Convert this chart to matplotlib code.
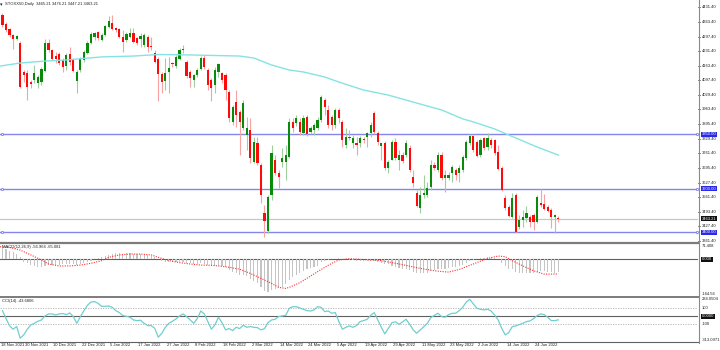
import matplotlib
matplotlib.use("Agg")
import matplotlib.pyplot as plt
from matplotlib.lines import Line2D
import numpy as np

plt.rcParams['font.family'] = ['Liberation Sans', 'DejaVu Sans']

# ---------------- data ----------------
symbol_title = "STOXX50,Daily  3465.21 3476.21 3447.21 3463.21"

opens = [4396, 4355, 4332, 4304, 4286, 4268, 4135, 4130, 4089, 4098,
         4084, 4089, 4140, 4268, 4236, 4208, 4217, 4190, 4162, 4217,
         4190, 4094, 4144, 4190, 4222, 4268, 4295, 4318, 4282, 4304,
         4341, 4360, 4336, 4332, 4295, 4282, 4295, 4314, 4291, 4286,
         4259, 4295, 4254, 4222, 4194, 4126, 4094, 4135, 4176, 4162,
         4194, 4240, 4181, 4135, 4098, 4121, 4149, 4199, 4144, 4098,
         4075, 4135, 4130, 4121, 4043, 3906, 3997, 3951, 3878, 3846,
         3869, 3722, 3809, 3708, 3488, 3406, 3571, 3731, 3672, 3722,
         3722, 3745, 3906, 3901, 3906, 3855, 3929, 3860, 3869, 3878,
         3915, 4006, 3961, 3929, 3892, 3961, 3906, 3800, 3837, 3809,
         3809, 3809, 3828, 3837, 3855, 3947, 3855, 3796, 3809, 3695,
         3731, 3814, 3731, 3754, 3754, 3786, 3654, 3580, 3511, 3571,
         3571, 3608, 3708, 3686, 3754, 3649, 3649, 3672, 3686, 3672,
         3686, 3741, 3809, 3841, 3814, 3754, 3832, 3791, 3823, 3823,
         3768, 3695, 3557, 3516, 3470, 3571, 3424, 3456, 3466, 3470,
         3479, 3447, 3534, 3530, 3516, 3502, 3470, 3465.21]
highs = [4405, 4364, 4337, 4309, 4304, 4275, 4144, 4144, 4098, 4167,
         4121, 4158, 4286, 4286, 4240, 4227, 4227, 4199, 4222, 4250,
         4199, 4144, 4204, 4236, 4277, 4318, 4318, 4323, 4314, 4350,
         4392, 4396, 4341, 4336, 4327, 4318, 4336, 4336, 4295, 4314,
         4314, 4304, 4295, 4236, 4204, 4135, 4199, 4204, 4181, 4213,
         4245, 4259, 4190, 4144, 4126, 4153, 4208, 4213, 4153, 4107,
         4158, 4176, 4135, 4130, 4052, 3984, 4052, 3961, 4006, 3929,
         3924, 3837, 3837, 3718, 3525, 3571, 3800, 3754, 3686, 3786,
         3800, 3924, 3924, 3938, 3924, 3938, 3938, 3887, 3901, 3929,
         4029, 4016, 3984, 3938, 3970, 3970, 3915, 3878, 3869, 3846,
         3837, 3841, 3837, 3860, 3906, 3956, 3864, 3809, 3818, 3731,
         3823, 3832, 3777, 3768, 3823, 3800, 3686, 3594, 3608, 3663,
         3631, 3731, 3722, 3768, 3768, 3686, 3676, 3708, 3695, 3708,
         3754, 3823, 3851, 3851, 3823, 3832, 3837, 3855, 3832, 3828,
         3800, 3704, 3571, 3525, 3580, 3580, 3479, 3502, 3520, 3479,
         3488, 3571, 3599, 3576, 3525, 3511, 3484, 3476.21]
lows = [4341, 4318, 4295, 4240, 4282, 4061, 4089, 4006, 4061, 4084,
        4061, 4075, 4135, 4227, 4190, 4176, 4167, 4135, 4144, 4167,
        4135, 4039, 4135, 4181, 4217, 4263, 4282, 4282, 4277, 4300,
        4336, 4327, 4318, 4291, 4227, 4272, 4291, 4268, 4259, 4250,
        4250, 4227, 4236, 4176, 4000, 4039, 4052, 4039, 4158, 4153,
        4190, 4222, 4107, 4066, 4066, 4112, 4144, 4149, 4052, 4000,
        4039, 4112, 4084, 4006, 3906, 3892, 3883, 3754, 3869, 3777,
        3718, 3718, 3708, 3534, 3378, 3397, 3548, 3663, 3603, 3699,
        3640, 3741, 3860, 3887, 3846, 3846, 3841, 3851, 3846, 3869,
        3906, 3938, 3878, 3869, 3878, 3901, 3791, 3786, 3823, 3786,
        3754, 3791, 3809, 3791, 3837, 3851, 3800, 3731, 3686, 3672,
        3731, 3731, 3686, 3718, 3745, 3676, 3608, 3516, 3488, 3557,
        3562, 3594, 3686, 3676, 3640, 3585, 3640, 3631, 3640, 3631,
        3676, 3731, 3800, 3768, 3745, 3745, 3777, 3777, 3786, 3754,
        3686, 3589, 3502, 3470, 3465, 3397, 3415, 3424, 3447, 3424,
        3411, 3443, 3516, 3502, 3493, 3420, 3397, 3447.21]
closes = [4350, 4327, 4304, 4286, 4300, 4066, 4121, 4066, 4080, 4130,
          4112, 4149, 4268, 4236, 4194, 4194, 4176, 4158, 4213, 4181,
          4140, 4135, 4194, 4227, 4268, 4309, 4314, 4291, 4304, 4346,
          4369, 4332, 4327, 4295, 4272, 4309, 4314, 4272, 4268, 4300,
          4304, 4250, 4250, 4181, 4126, 4089, 4130, 4153, 4172, 4204,
          4236, 4236, 4117, 4107, 4121, 4144, 4199, 4158, 4075, 4061,
          4144, 4172, 4098, 4052, 3924, 3974, 3938, 3906, 3993, 3878,
          3741, 3814, 3718, 3571, 3452, 3562, 3763, 3672, 3654, 3740,
          3754, 3906, 3878, 3924, 3860, 3924, 3851, 3878, 3892, 3915,
          4020, 3974, 3892, 3892, 3961, 3924, 3823, 3837, 3832, 3832,
          3800, 3832, 3823, 3855, 3892, 3860, 3814, 3809, 3695, 3722,
          3814, 3741, 3754, 3727, 3809, 3686, 3626, 3520, 3571, 3580,
          3603, 3708, 3695, 3754, 3649, 3663, 3663, 3699, 3663, 3695,
          3745, 3814, 3841, 3777, 3750, 3823, 3786, 3832, 3800, 3763,
          3690, 3594, 3511, 3475, 3557, 3401, 3456, 3470, 3488, 3447,
          3447, 3562, 3525, 3507, 3497, 3470, 3479, 3463.21]

# moving average, read at selected bars
ma_bars = [-0.7, 5, 12, 18, 28, 37, 44, 53, 67, 71, 76, 81, 85, 91, 95,
           102, 109, 116, 124, 130, 133, 139, 143, 151, 157]
ma_vals = [4162, 4176, 4185, 4190, 4204, 4208, 4215, 4213, 4208, 4199,
           4167, 4144, 4135, 4112, 4089, 4052, 4029, 3997, 3961, 3920,
           3906, 3874, 3846, 3791, 3754]

# horizontal levels
levels = [3850.00, 3600.00, 3400.00]
last_price = 3463.21

# MACD(12,26,9)
macd_main = [50, 45, 39, 35, 24, 12, -11, -18, -26, -30,
             -33, -36, -30, -27, -26, -26, -24, -23, -21, -21,
             -21, -26, -21, -18, -11, -6, 0, 5, 9, 15,
             20, 24, 27, 27, 26, 27, 27, 26, 24, 23,
             21, 18, 15, 9, 0, -6, -11, -11, -12, -12,
             -11, -11, -15, -18, -21, -21, -18, -21, -26, -30,
             -30, -29, -30, -36, -48, -56, -61, -71, -71, -76,
             -91, -97, -109, -124, -142, -147, -139, -136, -132, -124,
             -112, -94, -82, -71, -64, -52, -45, -41, -36, -30,
             -12, -6, -3, 0, 3, 5, 3, 0, -3, -5,
             -8, -9, -9, -8, -6, -8, -11, -15, -20, -20,
             -28, -33, -38, -42, -44, -50, -56, -62, -64, -62,
             -60, -52, -48, -42, -44, -42, -40, -37, -35, -32,
             -25, -15, -6, -3, 0, 5, 8, 10, 10, 8,
             0, -15, -30, -42, -45, -58, -62, -64, -64, -64,
             -64, -58, -55, -55, -56, -59, -60, -56.964]
signal_bars = [-0.7, 2, 5, 8, 11, 13, 16, 19, 22, 25, 28, 30, 33, 36, 39,
               42, 45, 47, 50, 53, 56, 59, 61, 64, 67, 70, 73, 76, 78, 80,
               81, 84, 87, 90, 93, 95, 98, 101, 107, 112, 118, 122, 126,
               129, 133, 137, 140, 142, 144, 147, 150, 153, 156, 157]
signal_vals = [57, 54, 42, 20, -3, -21, -30, -30, -26, -18, -6, 9, 20, 24,
               24, 20, 4, -6, -15, -21, -26, -27, -30, -36, -45, -64, -86,
               -109, -127, -132, -127, -106, -76, -46, -18, -3, 3, 0, -6,
               -21, -41, -52, -58, -46, -21, 4, 15, 12, -6, -30, -52, -67,
               -67, -65.081]

# CCI(14)
cci = [69, -29, -118, -159, -126, -269, -228, -159, -106, -86,
       -61, -45, 4, 29, 29, 16, 29, 33, 20, 41,
       -4, -86, -4, 69, 135, 175, 180, 159, 122, 122,
       126, 110, 69, 45, 8, 0, -12, -45, -53, -49,
       -86, -114, -114, -147, -257, -208, -135, -86, -61, -33,
       4, 29, -4, -45, -86, -29, 65, 29, -65, -159,
       -106, -12, -78, -167, -151, -175, -135, -151, -110, -135,
       -126, -135, -139, -167, -151, -78, -45, -37, -4, 4,
       12, 98, 118, 118, 102, 86, 69, 65, 78, 118,
       110, 57, 65, 37, 45, -65, -159, -135, -118, -135,
       -114, -65, -53, -37, 12, 45, -45, -135, -216, -147,
       -78, -69, -98, -69, -37, -98, -167, -208, -167, -126,
       -86, -16, 12, 37, -4, -12, 20, 37, 37, 69,
       110, 175, 208, 151, 98, 86, 78, 86, 65, 16,
       -45, -147, -228, -200, -126, -118, -102, -86, -65, -57,
       -29, 8, 29, 20, -12, -53, -53, -43.6806]

price_ticks = [4431.40, 4363.40, 4297.40, 4231.40, 4163.40, 4097.40, 4029.40,
               3963.40, 3895.40, 3829.40, 3761.40, 3695.40, 3627.40, 3561.40,
               3493.40, 3427.40, 3361.40]

date_labels = ["18 Nov 2021", "30 Nov 2021", "10 Dec 2021", "22 Dec 2021",
               "5 Jan 2022", "17 Jan 2022", "27 Jan 2022", "8 Feb 2022",
               "18 Feb 2022", "2 Mar 2022", "14 Mar 2022", "24 Mar 2022",
               "5 Apr 2022", "19 Apr 2022", "29 Apr 2022", "11 May 2022",
               "23 May 2022", "2 Jun 2022", "14 Jun 2022", "24 Jun 2022"]
date_bars = [-1, 7, 15, 23, 31, 39, 47, 55, 63, 71, 79, 87, 95, 103, 111,
             119, 127, 135, 143, 151]

# ---------------- layout helpers ----------------
W, H = 720, 350
fig = plt.figure(figsize=(W / 100, H / 100), dpi=100)
fig.patch.set_facecolor("white")


def rect(x0, y0, x1, y1):
    return [x0 / W, 1 - y1 / H, (x1 - x0) / W, (y1 - y0) / H]


AX_R = 698
XLIM = (-0.706, 196.45)
FS = 3.0


def make_ax(y0, y1, ylim):
    ax = fig.add_axes(rect(0, y0, AX_R, y1))
    ax.set_xlim(*XLIM)
    ax.set_ylim(*ylim)
    ax.set_axis_off()
    return ax


ax = make_ax(0, 241.5, (3357.9, 4464.9))
axm = make_ax(243.6, 295.6, (-164.56, 71.408))
axc = make_ax(297.2, 341.8, (-313.0971, 234.0504))

n = len(closes)
idx = np.arange(n)
o = np.array(opens, float)
h = np.array(highs, float)
l = np.array(lows, float)
c = np.array(closes, float)
up = c >= o

# ---------------- price panel ----------------
wick_cols = np.where(up, "#9fce9f", "#f7a3a3")
ax.vlines(idx, l, h, colors=wick_cols, lw=0.8, zorder=2)
body_bottom = np.minimum(o, c)
body_h = np.maximum(np.abs(c - o), 3.0)
ax.bar(idx, body_h, bottom=body_bottom, width=0.62,
       color=np.where(up, "#0a8a0a", "#ff0a0a"), lw=0, zorder=3)

ax.plot(ma_bars, ma_vals, color="#86e3e3", lw=1.0, zorder=4)

for lv in levels:
    ax.axhline(lv, color="#8585ee", lw=1.0, zorder=1)
    ax.plot([XLIM[0] + 0.5, XLIM[1] - 0.3], [lv, lv], ls="none", marker="o",
            ms=1.6, mfc="white", mec="#6a6ae0", mew=0.5, zorder=5, clip_on=False)
ax.axhline(last_price, color="#c3c8cc", lw=0.9, zorder=1)

ax.text(0.0005, 0.99, "\u25be", transform=ax.transAxes, fontsize=3.6,
        va="top", ha="left", color="#202040")
ax.text(0.007, 0.99, symbol_title, transform=ax.transAxes, fontsize=FS,
        va="top", ha="left", color="#202020")

ytr = ax.get_yaxis_transform()
for t in price_ticks:
    ax.text(1.0057, t, f"{t:.2f}", transform=ytr, fontsize=FS, va="center",
            ha="left", color="#202020", clip_on=False)
    ax.plot([1.0, 1.003], [t, t], transform=ytr, color="#404040", lw=0.5,
            clip_on=False)
for lv in levels:
    ax.text(1.0057, lv, f"{lv:.2f}", transform=ytr, fontsize=FS, va="center",
            ha="left", color="white", clip_on=False, zorder=6,
            bbox=dict(boxstyle="square,pad=0.12", fc="#2a2ae6", ec="none"))
ax.text(1.0057, last_price, f"{last_price:.2f}", transform=ytr, fontsize=FS,
        va="center", ha="left", color="white", clip_on=False, zorder=6,
        bbox=dict(boxstyle="square,pad=0.12", fc="#101010", ec="none"))

# ---------------- MACD panel ----------------
axm.bar(idx, macd_main, width=0.32, color="#c4c4c4", lw=0, zorder=2)
axm.axhline(0, color="#606060", lw=0.8, zorder=1)
axm.plot(signal_bars, signal_vals, color="#ff3030", lw=0.8, ls=(0, (1, 1.2)),
         zorder=3)
axm.text(0.003, 0.97, "MACD(12,26,9) -56.964 -65.081", transform=axm.transAxes,
         fontsize=FS, va="top", ha="left", color="#202020")
mtr = axm.get_yaxis_transform()
axm.text(1.0057, 71.408, "71.408", transform=mtr, fontsize=FS, va="top",
         ha="left", color="#202020", clip_on=False)
axm.text(1.0057, -164.56, "-164.56", transform=mtr, fontsize=FS, va="bottom",
         ha="left", color="#202020", clip_on=False)
axm.text(1.0057, 0, "0.000", transform=mtr, fontsize=FS, va="center",
         ha="left", color="white", clip_on=False,
         bbox=dict(boxstyle="square,pad=0.12", fc="#101010", ec="none"))

# ---------------- CCI panel ----------------
axc.plot(idx, cci, color="#6fcfcf", lw=0.9, zorder=3)
axc.axhline(0, color="#606060", lw=0.8, zorder=1)
for lv in (100, -100):
    axc.axhline(lv, color="#b0b0b0", lw=0.6, ls=(0, (1.5, 1.5)), zorder=1)
axc.text(0.003, 0.97, "CCI(14) -43.6806", transform=axc.transAxes,
         fontsize=FS, va="top", ha="left", color="#202020")
ctr = axc.get_yaxis_transform()
axc.text(1.0057, 234.0504, "234.0504", transform=ctr, fontsize=FS, va="top",
         ha="left", color="#202020", clip_on=False)
axc.text(1.0057, -313.0971, "-313.0971", transform=ctr, fontsize=FS,
         va="bottom", ha="left", color="#202020", clip_on=False)
for lv in (100, -100):
    axc.text(1.0057, lv, f"{lv}", transform=ctr, fontsize=FS, va="center",
             ha="left", color="#202020", clip_on=False)
axc.text(1.0057, 0, "0.0000", transform=ctr, fontsize=FS, va="center",
         ha="left", color="white", clip_on=False,
         bbox=dict(boxstyle="square,pad=0.12", fc="#101010", ec="none"))

# date labels under the lowest panel (first one kept inside the figure)
xtr = axc.get_xaxis_transform()
for b, lab in zip(date_bars, date_labels):
    xpos = max(b - 0.6, XLIM[0] + 0.25)
    axc.text(xpos, -0.03, lab, transform=xtr, fontsize=FS, va="top",
             ha="left", color="#202020", clip_on=False)

# ---------------- frame lines ----------------
def hline_px(y, lw, col, x0=0, x1=AX_R):
    fig.add_artist(Line2D([x0 / W, x1 / W], [1 - y / H, 1 - y / H],
                          color=col, lw=lw))


hline_px(242.5, 1.6, "#7c7c7c")
hline_px(296.5, 1.4, "#7c7c7c")
hline_px(342.0, 0.8, "#606060")
fig.add_artist(Line2D([(AX_R + 0.5) / W] * 2, [1 - 342.5 / H, 1.0],
                      color="#8a8a8a", lw=0.8))

fig.savefig("out.png", dpi=100, facecolor="white")
